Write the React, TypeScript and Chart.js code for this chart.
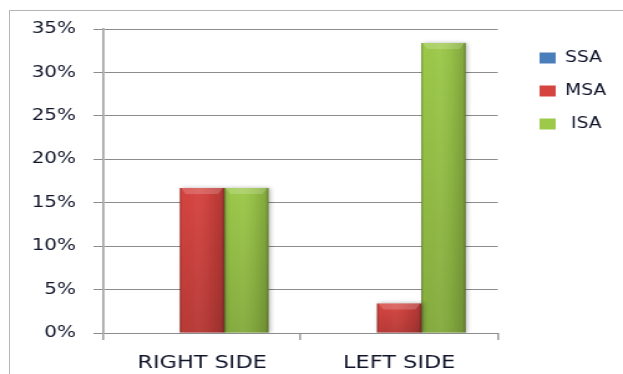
import { useEffect, useRef } from 'react';
import { Chart, registerables } from 'chart.js';

Chart.register(...registerables);

// ---- data ----
const categories = ['RIGHT SIDE', 'LEFT SIDE'];
const seriesLabels = ['SSA', 'MSA', ' ISA'];
const ssaValues = [0, 0];
const msaValues = [16.7, 3.4];
const isaValues = [16.7, 33.4];
const yMax = 35;
const yStep = 5;

const seriesColors = ['#4a7ebb', '#d64440', '#9cc94a'];

const LOGICAL_W = 500;
const H = 374;
const SCREEN_W = 623;
const FONT = 'DejaVu Sans';

const shadowPlugin = {
  id: 'barShadow',
  beforeDatasetsDraw(chart: any) {
    const ctx = chart.ctx as CanvasRenderingContext2D;
    ctx.save();
    ctx.shadowColor = 'rgba(0,0,0,0.28)';
    ctx.shadowBlur = 4;
    ctx.shadowOffsetX = 1.5;
    ctx.shadowOffsetY = 0;
  },
  afterDatasetsDraw(chart: any) {
    chart.ctx.restore();
  },
};

const bevelPlugin = {
  id: 'bevel3d',
  afterDatasetsDraw(chart: any) {
    const ctx = chart.ctx as CanvasRenderingContext2D;
    chart.data.datasets.forEach((_ds: any, di: number) => {
      const meta = chart.getDatasetMeta(di);
      if (meta.hidden) return;
      meta.data.forEach((bar: any) => {
        const { x, y, base, width } = bar.getProps(['x', 'y', 'base', 'width'], true);
        const h = base - y;
        if (h < 1) return;
        const left = x - width / 2;
        const right = x + width / 2;
        ctx.save();
        const g = ctx.createLinearGradient(left, 0, right, 0);
        g.addColorStop(0, 'rgba(0,0,0,0.32)');
        g.addColorStop(0.05, 'rgba(0,0,0,0.0)');
        g.addColorStop(0.4, 'rgba(255,255,255,0.03)');
        g.addColorStop(0.7, 'rgba(0,0,0,0.06)');
        g.addColorStop(0.94, 'rgba(0,0,0,0.16)');
        g.addColorStop(1, 'rgba(0,0,0,0.40)');
        ctx.fillStyle = g;
        ctx.fillRect(left, y, width, h);
        const v = ctx.createLinearGradient(0, y, 0, base);
        v.addColorStop(0, 'rgba(0,0,0,0)');
        v.addColorStop(1, 'rgba(0,0,0,0.14)');
        ctx.fillStyle = v;
        ctx.fillRect(left, y, width, h);
        const bv = Math.min(6, h / 2);
        const bh = bv * 0.8;
        ctx.beginPath();
        ctx.moveTo(left + 1, y);
        ctx.lineTo(right - 1, y);
        ctx.lineTo(right - bh, y + bv);
        ctx.lineTo(left + bh, y + bv);
        ctx.closePath();
        ctx.fillStyle = 'rgba(255,255,255,0.18)';
        ctx.fill();
        ctx.restore();
      });
    });
  },
};

const legendShiftPlugin = {
  id: 'legendShift',
  afterLayout(chart: any) {
    const lg = chart.legend;
    if (!lg) return;
    const targetLeft = chart.chartArea.right + 15.5;
    const dx = targetLeft - lg.left;
    lg.left += dx;
    lg.right += dx;
    lg.top += 3.5;
    lg.bottom += 3.5;
  },
};

export default function App() {
  const ref = useRef<HTMLCanvasElement>(null);

  useEffect(() => {
    const canvas = ref.current;
    if (!canvas) return;
    const textColor = '#10152a';
    const chart = new Chart(canvas, {
      type: 'bar',
      data: {
        labels: categories,
        datasets: [ssaValues, msaValues, isaValues].map((vals, i) => ({
          label: seriesLabels[i],
          data: vals,
          backgroundColor: seriesColors[i],
          borderWidth: 0,
          categoryPercentage: 0.674,
          barPercentage: 1.0,
        })),
      },
      options: {
        responsive: false,
        animation: false,
        devicePixelRatio: 1,
        layout: { padding: { left: 0, right: 19, top: 29, bottom: 0 } },
        plugins: {
          tooltip: { enabled: false },
          legend: {
            position: 'right',
            align: 'start',
            fullSize: false,
            labels: {
              boxWidth: 13,
              boxHeight: 11,
              padding: 18,
              color: textColor,
              font: { family: FONT, size: 15 },
            },
          },
        },
        scales: {
          x: {
            grid: {
              display: true,
              drawOnChartArea: false,
              drawTicks: true,
              tickLength: 7,
              color: '#a0a0a0',
              lineWidth: 1.6,
            },
            border: { display: true, color: '#8c8c8c', width: 1 },
            ticks: {
              color: textColor,
              padding: 13,
              font: { family: FONT, size: 18 },
            },
            afterFit: (scale: any) => {
              scale.height = 41;
            },
          },
          y: {
            min: 0,
            max: yMax,
            ticks: {
              stepSize: yStep,
              color: textColor,
              padding: 14,
              font: { family: FONT, size: 16 },
              callback: (v: any) => `${v}%`,
            },
            grid: {
              color: '#8c8c8c',
              lineWidth: 1,
              tickLength: 8,
            },
            border: { display: true, color: '#a8a8a8', width: 1.8 },
            afterFit: (scale: any) => {
              scale.width = 83;
            },
          },
        },
      },
      plugins: [shadowPlugin, bevelPlugin, legendShiftPlugin],
    });
    return () => chart.destroy();
  }, []);

  return (
    <div
      style={{
        position: 'fixed',
        left: 0,
        top: 0,
        width: SCREEN_W,
        height: H,
        overflow: 'hidden',
        background: '#ffffff',
      }}
    >
      <div
        style={{
          position: 'absolute',
          left: 9,
          top: 10,
          width: 700,
          height: 500,
          border: '1px solid #b4b4b4',
          boxSizing: 'border-box',
        }}
      />
      <canvas
        ref={ref}
        width={LOGICAL_W}
        height={H}
        style={{ position: 'absolute', left: 0, top: 0, width: `${SCREEN_W}px`, height: `${H}px` }}
      />
    </div>
  );
}
